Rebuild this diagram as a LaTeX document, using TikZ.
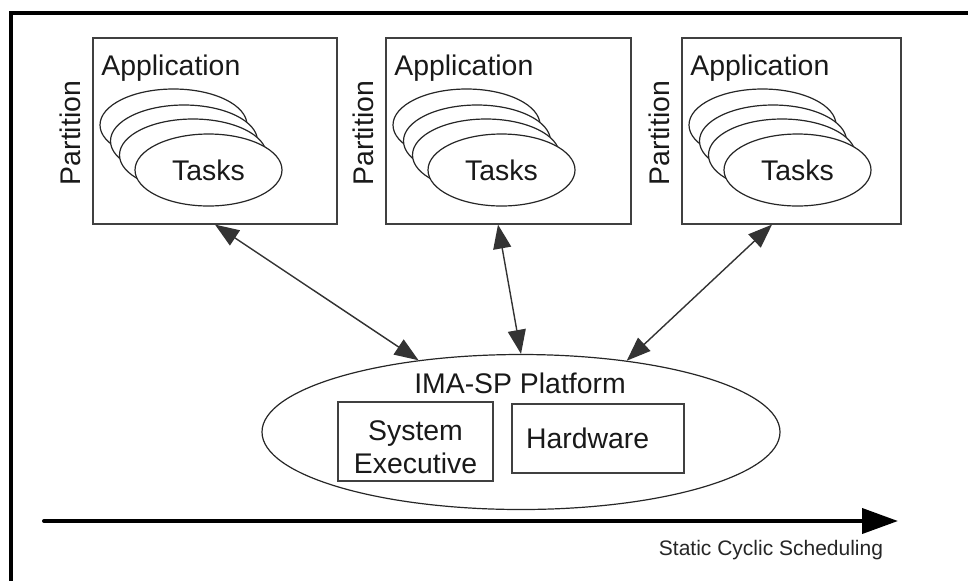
\documentclass[tikz,border=0pt]{standalone}
\usepackage{fontspec}
\setmainfont{Liberation Sans}
\usetikzlibrary{arrows.meta,shapes.geometric}

\tikzset{
  pbox/.style={draw=black!75, line width=0.8pt, inner sep=0pt},
  task/.style={ellipse, draw=black!85, line width=0.6pt, fill=white,
    minimum width=73.5pt, minimum height=36pt, inner sep=0pt},
  lbl/.style={font=\fontsize{14.2}{16.5}\selectfont, text=black!90},
  link/.style={draw=black!80, line width=0.7pt,
    {Triangle[length=12pt,width=9pt]}-{Triangle[length=12pt,width=9pt]}},
}

\begin{document}
\begin{tikzpicture}[x=0.5pt,y=-0.5pt]
\useasboundingbox (0,0) rectangle (968,580);

% Frame
\draw[line width=2pt] (11,600) -- (11,13) -- (990,13);

% Partitions with application and tasks
\foreach \n/\x/\w in {1/92/244, 2/385/245, 3/681/219} {
  \node[pbox, anchor=north west, minimum width=\w*0.5pt, minimum height=93pt] (part\n) at (\x,37) {};
  \node[lbl, inner sep=0pt, anchor=base west] (app\n) at (\x+9,75) {Application};
  \node[lbl, inner sep=0pt, rotate=90] (ptxt\n) at (\x-22,133) {Partition};
  \node[task] (task\n-1) at (\x+81.5,125) {};
  \node[task] (task\n-2) at (\x+92,141) {};
  \node[task] (task\n-3) at (\x+101,155) {};
  \node[task, lbl] (task\n-4) at (\x+116.5,170) {Tasks};
}

% Platform
\node[ellipse, draw=black!85, line width=0.6pt, minimum width=259pt, minimum height=77.5pt] (plat) at (521,432) {};
\node[lbl, anchor=base] (platname) at (520,393) {IMA-SP Platform};
\node[pbox, lbl, align=center, minimum width=77.5pt, minimum height=39.5pt, text height=32.5pt] (sysexec) at (415.5,441.5) {System\\Executive};
\node[pbox, lbl, align=left, text width=72pt, inner xsep=7pt, minimum height=34.5pt] (hw) at (598,438.5) {Hardware};

% Partition <-> platform
\foreach \n/\dx/\a in {1/61.5/145, 2/56.5/90, 3/45.5/34}
  \draw[link] ([xshift=\dx pt]part\n.south west) -- (plat.\a);

% Time axis
\coordinate (tstart) at (44,521);
\coordinate (tend) at (898,521);
\draw[line width=2pt, line cap=round, -{Triangle[length=18pt,width=12.5pt]}] (tstart) -- (tend);
\node[font=\fontsize{10.5}{12}\selectfont, text=black!85, anchor=base] (sched) at (771,555) {Static Cyclic Scheduling};

\end{tikzpicture}
\end{document}
